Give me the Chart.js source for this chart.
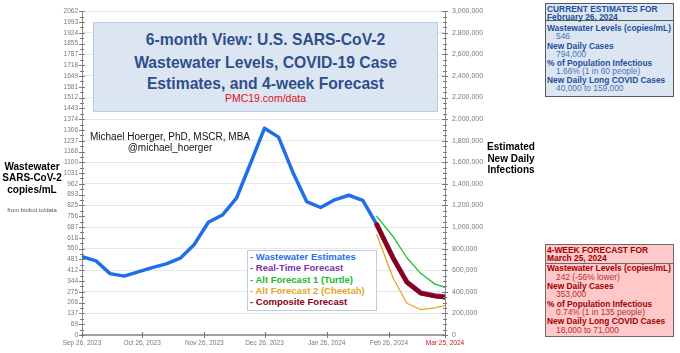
<!DOCTYPE html>
<html><head><meta charset="utf-8">
<script src="https://cdn.jsdelivr.net/npm/chart.js"></script>
<style>
html,body{margin:0;padding:0;background:#fff;}
#wrap{position:relative;width:680px;height:353px;overflow:hidden;font-family:"Liberation Sans",Arial,sans-serif;}
canvas{position:absolute;left:0;top:0;}
.t{position:absolute;white-space:nowrap;height:12px;line-height:12px;}
.box{position:absolute;box-sizing:border-box;}
.tt{position:absolute;left:93px;width:345px;text-align:center;white-space:nowrap;font-weight:bold;font-size:15.7px;height:18px;line-height:18px;color:#2f4f8c;}
.lg{position:absolute;left:250px;font-weight:bold;font-size:9.5px;white-space:nowrap;height:12px;line-height:12px;}
.hb{font-weight:bold;font-size:8.4px;color:#234f9c;left:547px;}
.vb{font-size:8.4px;color:#4a72be;left:556px;}
.hr{font-weight:bold;font-size:8.4px;color:#a00000;left:547px;}
.vr{font-size:8.4px;color:#b83030;left:556px;}
.ax{font-weight:bold;font-size:10px;color:#000;text-align:center;}
</style></head><body>
<div id="wrap">
<canvas id="c" width="680" height="353"></canvas>

<div class="box" style="left:93px;top:22px;width:345px;height:90px;background:#dce6f2;border:1px solid #b9cde5;"></div>
<div class="tt" style="top:31px;">6-month View: U.S. SARS-CoV-2</div>
<div class="tt" style="top:53.5px;">Wastewater Levels, COVID-19 Case</div>
<div class="tt" style="top:75.3px;">Estimates, and 4-week Forecast</div>
<div class="t" style="left:93px;width:345px;text-align:center;top:92.3px;font-size:10.5px;color:#e0101e;">PMC19.com/data</div>

<div class="t" style="left:70px;width:200px;text-align:center;top:131.3px;font-size:10px;color:#111;">Michael Hoerger, PhD, MSCR, MBA</div>
<div class="t" style="left:70px;width:200px;text-align:center;top:142.3px;font-size:10px;color:#111;">@michael_hoerger</div>

<div class="t ax" style="left:0;width:64px;top:160.7px;">Wastewater</div>
<div class="t ax" style="left:0;width:64px;top:172.3px;">SARS-CoV-2</div>
<div class="t ax" style="left:0;width:64px;top:184px;">copies/mL</div>
<div class="t" style="left:0;width:64px;text-align:center;top:204px;font-size:6px;color:#555;">from biobot.io/data</div>

<div class="t ax" style="left:480px;width:62px;top:141.3px;">Estimated</div>
<div class="t ax" style="left:480px;width:62px;top:152.7px;">New Daily</div>
<div class="t ax" style="left:480px;width:62px;top:164px;">Infections</div>

<div class="box" style="left:246.5px;top:250px;width:130px;height:61px;background:#fff;border:1px solid #b9cde5;"></div>
<div class="lg" style="top:251.3px;color:#1f6fe8;">- Wastewater Estimates</div>
<div class="lg" style="top:262.3px;color:#7a35a8;">- Real-Time Forecast</div>
<div class="lg" style="top:274px;color:#22b82a;">- Alt Forecast 1 (Turtle)</div>
<div class="lg" style="top:285px;color:#e3a424;">- Alt Forecast 2 (Cheetah)</div>
<div class="lg" style="top:295.7px;color:#8b0015;">- Composite Forecast</div>

<div class="box" style="left:545px;top:3px;width:129px;height:94px;background:#dce6f2;border:1px solid #5a5a5a;"></div>
<div class="box" style="left:545px;top:20px;width:129px;height:1px;background:#5a5a5a;"></div>
<div class="t hb" style="top:2.5px;">CURRENT ESTIMATES FOR</div>
<div class="t hb" style="top:10.5px;">February 26, 2024</div>
<div class="t hb" style="top:22.3px;">Wastewater Levels (copies/mL)</div>
<div class="t vb" style="top:30.3px;">546</div>
<div class="t hb" style="top:39.6px;">New Daily Cases</div>
<div class="t vb" style="top:47.6px;">794,000</div>
<div class="t hb" style="top:57px;">% of Population Infectious</div>
<div class="t vb" style="top:65px;">1.66% (1 in 60 people)</div>
<div class="t hb" style="top:74.3px;">New Daily Long COVID Cases</div>
<div class="t vb" style="top:82.3px;">40,000 to 159,000</div>

<div class="box" style="left:545px;top:244px;width:129px;height:93px;background:#ffc9c9;border:1px solid #6a6a6a;"></div>
<div class="box" style="left:545px;top:262.5px;width:129px;height:1px;background:#6a6a6a;"></div>
<div class="t hr" style="top:244px;">4-WEEK FORECAST FOR</div>
<div class="t hr" style="top:252.3px;">March 25, 2024</div>
<div class="t hr" style="top:262.3px;">Wastewater Levels (copies/mL)</div>
<div class="t vr" style="top:270.5px;">242 (-56% lower)</div>
<div class="t hr" style="top:280px;">New Daily Cases</div>
<div class="t vr" style="top:288px;">353,000</div>
<div class="t hr" style="top:297.5px;">% of Population Infectious</div>
<div class="t vr" style="top:305.5px;">0.74% (1 in 135 people)</div>
<div class="t hr" style="top:315.3px;">New Daily Long COVID Cases</div>
<div class="t vr" style="top:323.5px;">18,000 to 71,000</div>
</div>
<script>
const startDate = '2023-09-26';
const wwDates = ['2023-09-26','2023-10-03','2023-10-10','2023-10-17','2023-10-24','2023-10-31','2023-11-07','2023-11-14','2023-11-21','2023-11-28','2023-12-05','2023-12-12','2023-12-19','2023-12-26','2024-01-02','2024-01-09','2024-01-16','2024-01-23','2024-01-30','2024-02-06','2024-02-13','2024-02-20'];
const wwValues = [499,472,391,375,402,429,453,489,577,718,764,871,1092,1317,1260,1040,850,812,861,890,857,703];
const fcDates = ['2024-02-20','2024-02-28','2024-03-06','2024-03-13','2024-03-20','2024-03-25'];
const realTimeValues = [703,494,338,268,250,243];
const turtleValues = [756,629,492,391,324,304];
const cheetahValues = [640,366,202,162,173,187];
const compositeValues = [703,492,335,265,247,240];
const xTickDates = ['2023-09-26','2023-10-26','2023-11-26','2023-12-26','2024-01-26','2024-02-26','2024-03-25'];
const xTickLabels = ['Sep 26, 2023','Oct 26, 2023','Nov 26, 2023','Dec 26, 2023','Jan 26, 2024','Feb 26, 2024','Mar 25, 2024'];
const leftTickLabels = ['0','69','137','206','275','344','412','481','550','618','687','756','825','893','962','1031','1100','1168','1237','1306','1374','1443','1512','1581','1649','1718','1787','1855','1924','1993','2062'];
const leftMax = 2062;
const rightMax = 3000000;
const rightStep = 200000;

const day = d => (Date.parse(d) - Date.parse(startDate)) / 86400000;
const pts = (dates, vals) => dates.map((d, i) => ({x: day(d), y: vals[i]}));

Chart.defaults.font.family = '"Liberation Sans", Arial, sans-serif';

const tickPlugin = {
  id: 'tickMarks',
  afterDraw(chart) {
    const c = chart.ctx, a = chart.chartArea;
    const {x, y, y2} = chart.scales;
    c.save();
    c.strokeStyle = '#7a7a7a';
    c.lineWidth = 1;
    const seg = (x1, y1, x2, y2_) => { c.beginPath(); c.moveTo(x1, y1); c.lineTo(x2, y2_); c.stroke(); };
    const n = (leftTickLabels.length - 1) * 2;
    for (let i = 0; i <= n; i++) {
      const py = Math.round(y.getPixelForValue(i * leftMax / n)) + 0.5;
      const L = i % 2 === 0 ? 3 : 2;
      seg(a.left - L, py, a.left + L, py);
    }
    const m = rightMax / rightStep * 4;
    for (let i = 0; i <= m; i++) {
      const py = Math.round(y2.getPixelForValue(i * rightMax / m)) + 0.5;
      const L = i % 4 === 0 ? 3 : 2;
      seg(a.right - L, py, a.right + L, py);
    }
    xTickDates.forEach(d => {
      const px = Math.round(x.getPixelForValue(day(d))) + 0.5;
      seg(px, a.bottom - 3, px, a.bottom + 3);
    });
    c.restore();
  }
};

new Chart(document.getElementById('c').getContext('2d'), {
  type: 'line',
  data: {
    datasets: [
      {label: 'Wastewater Estimates', data: pts(wwDates, wwValues), borderColor: '#1f6fe8', borderWidth: 3.5, order: 3},
      {label: 'Real-Time Forecast', data: pts(fcDates, realTimeValues), borderColor: '#7a35a8', borderWidth: 5, order: 2},
      {label: 'Alt Forecast 1 (Turtle)', data: pts(fcDates, turtleValues), borderColor: '#22c02a', borderWidth: 1.3, order: 4},
      {label: 'Alt Forecast 2 (Cheetah)', data: pts(fcDates, cheetahValues), borderColor: '#e6a824', borderWidth: 1.3, order: 5},
      {label: 'Composite Forecast', data: pts(fcDates, compositeValues), borderColor: '#8b0015', borderWidth: 4.2, order: 1}
    ]
  },
  options: {
    responsive: false,
    animation: false,
    layout: {padding: {top: 8, left: 0, right: 0, bottom: 0}},
    plugins: {legend: {display: false}, tooltip: {enabled: false}},
    elements: {point: {radius: 0}, line: {tension: 0, borderJoinStyle: 'round', borderCapStyle: 'round'}},
    scales: {
      x: {
        type: 'linear', min: 0, max: day('2024-03-25'),
        afterBuildTicks: s => { s.ticks = xTickDates.map(d => ({value: day(d)})); },
        ticks: {callback: (v, i) => xTickLabels[i], color: ctx => ctx.index === xTickLabels.length - 1 ? '#d0101e' : '#7a7a7a', font: {size: 6.5}, padding: 4, maxRotation: 0, autoSkip: false},
        grid: {drawOnChartArea: false, drawTicks: false},
        border: {color: '#a0a0a0', width: 2},
        afterFit: s => { s.height = 18; }
      },
      y: {
        position: 'left', min: 0, max: leftMax,
        afterBuildTicks: s => { s.ticks = leftTickLabels.map((l, i) => ({value: i * leftMax / (leftTickLabels.length - 1)})); },
        ticks: {callback: (v, i) => leftTickLabels[i], color: '#7a7a7a', font: {size: 6.5}, padding: 4, autoSkip: false},
        grid: {drawOnChartArea: false, drawTicks: false},
        border: {color: '#8a8a8a', width: 1},
        afterFit: s => { s.width = 82; }
      },
      y2: {
        position: 'right', min: 0, max: rightMax,
        ticks: {stepSize: rightStep, callback: v => v.toLocaleString('en-US'), color: '#7a7a7a', font: {size: 7}, padding: 7, autoSkip: false},
        grid: {color: '#e8e8e8', drawTicks: false},
        border: {color: '#8a8a8a', width: 1},
        afterFit: s => { s.width = 235; }
      }
    }
  },
  plugins: [tickPlugin]
});
</script>
</body></html>
